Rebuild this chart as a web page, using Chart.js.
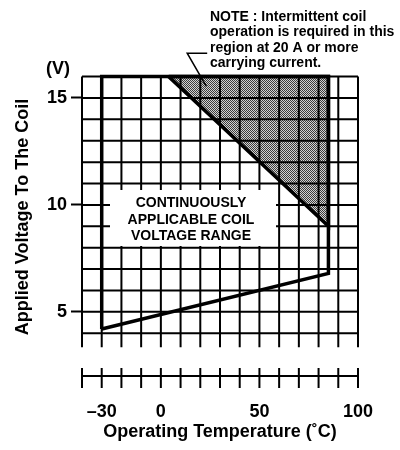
<!DOCTYPE html>
<html><head><meta charset="utf-8">
<script src="https://cdn.jsdelivr.net/npm/chart.js@4.4.1/dist/chart.umd.min.js"></script>
<style>html,body{margin:0;padding:0;background:#fff;}#wrap{width:400px;height:450px;}</style>
</head><body><div id="wrap"><canvas id="c" width="400" height="450"></canvas></div>
<script>
// ---- data ----
const regionTemps = [-30, 85, 85, -30, -30];
const regionVolts = [4.2, 6.8, 16, 16, 4.2];
const shadeTemps = [4, 85, 85, 4];
const shadeVolts = [16, 16, 9, 16];
const xGridTemps = [-40, -30, -20, -10, 0, 10, 20, 30, 40, 50, 60, 70, 80, 90, 100];
const yGridVolts = [4, 5, 6, 7, 8, 9, 10, 11, 12, 13, 14, 15, 16];
const xTickValues = [-30, 0, 50, 100];
const xTickLabels = ['–30', '0', '50', '100'];
const yTickValues = [5, 10, 15];
const yTickLabels = ['5', '10', '15'];
const boxText = ['CONTINUOUSLY', 'APPLICABLE COIL', 'VOLTAGE RANGE'];
const noteText = ['NOTE : Intermittent coil', 'operation is required in this', 'region at 20 A or more', 'carrying current.'];
const yTitle = 'Applied Voltage To The Coil';
const xTitle = 'Operating Temperature (˚C)';
const yUnit = '(V)';
const leaderTarget = {x: 23, y: 15.55};
const gridBottomVolt = 3.35;
const axisVolt = 2;

const FONT = '"Liberation Sans", Arial, Helvetica, sans-serif';

function makePattern() {
  const c = document.createElement('canvas');
  c.width = 2; c.height = 2;
  const g = c.getContext('2d');
  g.fillStyle = '#d2d2d2'; g.fillRect(0, 0, 2, 2);
  g.fillStyle = '#3c3c3c'; g.fillRect(0, 0, 1, 1); g.fillRect(1, 1, 1, 1);
  return g.createPattern(c, 'repeat');
}

const paper = {
  id: 'paper',
  afterDatasetDraw(chart, args) {
    if (args.index !== 1) return;
    const {ctx, scales: {x, y}} = chart;
    ctx.save();
    ctx.strokeStyle = '#000';
    ctx.lineWidth = 2;
    ctx.beginPath();
    yGridVolts.forEach(v => {
      const py = y.getPixelForValue(v);
      ctx.moveTo(x.getPixelForValue(-40), py);
      ctx.lineTo(x.getPixelForValue(100), py);
    });
    xGridTemps.forEach(t => {
      const px = x.getPixelForValue(t);
      ctx.moveTo(px, y.getPixelForValue(16));
      ctx.lineTo(px, y.getPixelForValue(gridBottomVolt));
    });
    ctx.stroke();
    ctx.restore();
  },
  afterDatasetsDraw(chart) {
    const {ctx, scales: {x, y}} = chart;
    ctx.save();
    // white box behind label
    ctx.fillStyle = '#fff';
    ctx.fillRect(110, 190, 166, 56);
    ctx.fillStyle = '#000';
    ctx.font = 'bold 14px ' + FONT;
    ctx.textAlign = 'center';
    ctx.textBaseline = 'middle';
    boxText.forEach((s, i) => ctx.fillText(s, 191, 203.5 + i * 16.5));
    // note
    ctx.font = 'bold 14px ' + FONT;
    ctx.textAlign = 'left';
    ctx.textBaseline = 'alphabetic';
    noteText.forEach((s, i) => ctx.fillText(s, 210, 21 + i * 15.3));
    // leader line
    const ex = x.getPixelForValue(leaderTarget.x), ey = y.getPixelForValue(leaderTarget.y);
    ctx.strokeStyle = '#000';
    ctx.lineWidth = 1.5;
    ctx.beginPath();
    ctx.moveTo(ex, ey);
    ctx.lineTo(ex - 19, ey - 33);
    ctx.lineTo(ex + 1, ey - 33);
    ctx.stroke();
    // (V)
    ctx.font = 'bold 18px ' + FONT;
    ctx.textAlign = 'center';
    ctx.textBaseline = 'middle';
    ctx.fillText(yUnit, 58, 69);
    // y title
    ctx.save();
    ctx.translate(23, 217);
    ctx.rotate(-Math.PI / 2);
    ctx.fillText(yTitle, 0, 0);
    ctx.restore();
    // lower temperature axis
    const ay = y.getPixelForValue(axisVolt);
    ctx.lineWidth = 2;
    ctx.beginPath();
    ctx.moveTo(x.getPixelForValue(-40) - 1, ay);
    ctx.lineTo(x.getPixelForValue(100) + 1, ay);
    xGridTemps.forEach(t => {
      const px = x.getPixelForValue(t);
      ctx.moveTo(px, ay - 8);
      ctx.lineTo(px, ay + 12);
    });
    ctx.stroke();
    ctx.restore();
  }
};

new Chart(document.getElementById('c'), {
  type: 'line',
  data: {
    datasets: [
      {
        data: regionTemps.map((t, i) => ({x: t, y: regionVolts[i]})),
        borderColor: '#000', borderWidth: 3.5, pointRadius: 0, fill: false,
        tension: 0, clip: false, borderJoinStyle: 'miter'
      },
      {
        data: shadeTemps.map((t, i) => ({x: t, y: shadeVolts[i]})),
        borderColor: '#000', borderWidth: 3.5, pointRadius: 0, fill: 'shape',
        backgroundColor: makePattern(), tension: 0, clip: false, borderJoinStyle: 'miter'
      }
    ]
  },
  options: {
    responsive: false,
    animation: false,
    devicePixelRatio: 1,
    layout: {padding: {top: 76.6, right: 42, bottom: 0, left: 0}},
    plugins: {legend: {display: false}, tooltip: {enabled: false}},
    scales: {
      x: {
        type: 'linear', min: -40, max: 100,
        afterBuildTicks: s => { s.ticks = xTickValues.map(v => ({value: v})); },
        ticks: {
          autoSkip: false, maxRotation: 0, padding: 25, color: '#000',
          font: {family: FONT, size: 18, weight: 'bold'},
          callback: v => xTickLabels[xTickValues.indexOf(v)] ?? ''
        },
        grid: {display: false, drawTicks: false},
        border: {display: false},
        title: {display: true, text: xTitle, color: '#000',
          font: {family: FONT, size: 18, weight: 'bold'}, padding: {top: 0, bottom: 7}},
        afterFit: s => { s.height = 74; }
      },
      y: {
        type: 'linear', min: 2, max: 16,
        afterBuildTicks: s => { s.ticks = yTickValues.map(v => ({value: v})); },
        ticks: {
          autoSkip: false, padding: 4, color: '#000',
          font: {family: FONT, size: 18, weight: 'bold'},
          callback: v => yTickLabels[yTickValues.indexOf(v)] ?? ''
        },
        grid: {display: true, drawOnChartArea: false, drawTicks: true, tickLength: 11,
          tickWidth: 2, tickColor: '#000'},
        border: {display: false},
        afterFit: s => { s.width = 82; }
      }
    }
  },
  plugins: [paper]
});
</script></body></html>
